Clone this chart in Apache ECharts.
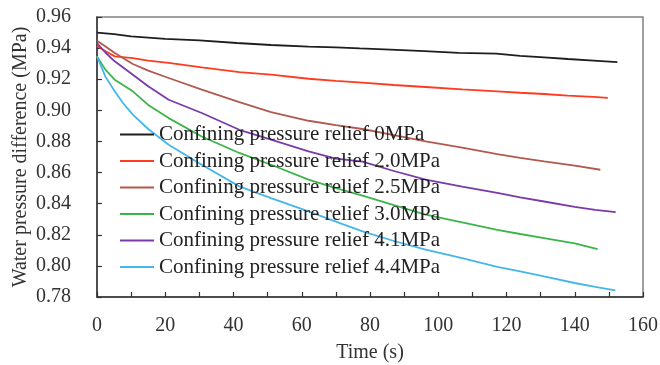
<!DOCTYPE html>
<html>
<head>
<meta charset="utf-8">
<script src="https://cdn.jsdelivr.net/npm/echarts@6/dist/echarts.min.js"></script>
<style>
html,body{margin:0;padding:0;background:#fff;}
#chart{width:660px;height:365px;}
</style>
</head>
<body>
<div id="chart"></div>
<script>
var seriesNames = [
  'Confining pressure relief 0MPa',
  'Confining pressure relief 2.0MPa',
  'Confining pressure relief 2.5MPa',
  'Confining pressure relief 3.0MPa',
  'Confining pressure relief 4.1MPa',
  'Confining pressure relief 4.4MPa'
];
var seriesColors = ['#1e1e1e', '#ff3b1f', '#b2594d', '#3cb44a', '#7a3aa8', '#45b6ea'];

var t0 = [0, 5, 10, 20, 30, 41, 51, 62, 70, 77, 86, 96, 106, 117, 124, 131, 138, 145.5, 152.5];
var v0 = [0.950, 0.949, 0.9475, 0.946, 0.945, 0.9433, 0.942, 0.941, 0.9405, 0.9398, 0.939, 0.938, 0.937, 0.9365, 0.935, 0.934, 0.933, 0.932, 0.931];

var t20 = [0, 2.5, 5.2, 10.5, 15, 21, 30.7, 41.7, 51, 62, 70, 77.8, 87, 96.3, 107, 117.3, 124, 131, 138, 145.5, 149.7];
var v20 = [0.9415, 0.938, 0.9347, 0.9335, 0.932, 0.9305, 0.9276, 0.9246, 0.9229, 0.9203, 0.919, 0.9178, 0.9163, 0.915, 0.9135, 0.9122, 0.9113, 0.9105, 0.9095, 0.9086, 0.908];

var t25 = [0, 2.5, 5.2, 10.5, 15, 21, 30.7, 41.7, 51, 62, 70, 77.8, 87, 96.3, 107, 117.3, 124, 131, 140, 147.5];
var v25 = [0.9448, 0.941, 0.9368, 0.9298, 0.9255, 0.9208, 0.9133, 0.9053, 0.8989, 0.8933, 0.8905, 0.888, 0.884, 0.880, 0.876, 0.8718, 0.8695, 0.8672, 0.8645, 0.8618];

var t30 = [0, 2.5, 5.2, 10.5, 15, 21, 30.7, 41.7, 51, 62, 70, 77.8, 87, 96.3, 107, 117.3, 124, 131, 140, 146.7];
var v30 = [0.9347, 0.926, 0.9197, 0.9122, 0.9035, 0.895, 0.8832, 0.8726, 0.865, 0.8554, 0.850, 0.8452, 0.839, 0.8329, 0.828, 0.8232, 0.8205, 0.8179, 0.8145, 0.8108];

var t41 = [0, 2.5, 5.2, 10.5, 15, 21, 30.7, 41.7, 51, 62, 70, 77.8, 87, 96.3, 107, 117.3, 124, 131, 140, 146, 152];
var v41 = [0.9433, 0.937, 0.9315, 0.9229, 0.9155, 0.9068, 0.8983, 0.8875, 0.8811, 0.8736, 0.869, 0.867, 0.861, 0.8554, 0.851, 0.847, 0.844, 0.8414, 0.838, 0.836, 0.8346];

var t44 = [0, 2.5, 5.2, 7.6, 10.5, 15, 21, 30.7, 41.7, 51, 62, 70, 77.8, 87, 96.3, 107, 117.3, 124, 131, 140, 146, 151.9];
var v44 = [0.9347, 0.9215, 0.9122, 0.9047, 0.8972, 0.888, 0.8779, 0.865, 0.8511, 0.8436, 0.835, 0.8285, 0.8222, 0.816, 0.8104, 0.805, 0.7993, 0.7965, 0.7932, 0.789, 0.7865, 0.7842];

var xTicksMin = 0, xTicksMax = 160, xTickStep = 10, xLabelStep = 20;
var yTicksMin = 0.78, yTicksMax = 0.96, yTickStep = 0.02;

var allT = [t0, t20, t25, t30, t41, t44];
var allV = [v0, v20, v25, v30, v41, v44];

function pairs(ts, vs) {
  var out = [];
  for (var i = 0; i < ts.length; i++) out.push([ts[i], vs[i]]);
  return out;
}

var FONT = '"Liberation Serif", "Times New Roman", serif';
var series = seriesNames.map(function (name, i) {
  return {
    name: name,
    type: 'line',
    data: pairs(allT[i], allV[i]),
    symbol: 'none',
    showSymbol: false,
    smooth: false,
    lineStyle: { color: seriesColors[i], width: 1.8 },
    itemStyle: { color: seriesColors[i] },
    animation: false
  };
});

var chart = echarts.init(document.getElementById('chart'), null, { renderer: 'canvas' });
chart.setOption({
  animation: false,
  backgroundColor: '#ffffff',
  grid: {
    left: 97, right: 17, top: 17, bottom: 68,
    containLabel: false,
    outerBoundsMode: 'none',
    show: true, borderColor: '#808080', borderWidth: 1.5, backgroundColor: 'transparent'
  },
  legend: {
    orient: 'vertical',
    left: 120,
    top: 124,
    padding: 0,
    icon: 'rect',
    itemWidth: 34,
    itemHeight: 2,
    itemGap: 5.5,
    textStyle: { fontFamily: FONT, fontSize: 21, color: '#222', lineHeight: 21 },
    data: seriesNames.slice()
  },
  xAxis: {
    type: 'value',
    min: xTicksMin,
    max: xTicksMax,
    interval: xTickStep,
    name: 'Time (s)',
    nameLocation: 'middle',
    nameGap: 46,
    nameMoveOverlap: false,
    nameTextStyle: { fontFamily: FONT, fontSize: 20, color: '#333' },
    axisLine: { show: true, onZero: false, lineStyle: { color: '#333', width: 1.5 } },
    axisTick: { show: true, inside: true, length: 5, lineStyle: { color: '#333', width: 1.2 } },
    axisLabel: {
      fontFamily: FONT, fontSize: 20, color: '#333', margin: 19,
      formatter: function (v) { return (Math.round(v) % xLabelStep === 0) ? String(Math.round(v)) : ''; }
    },
    splitLine: { show: false }
  },
  yAxis: {
    type: 'value',
    min: yTicksMin,
    max: yTicksMax,
    interval: yTickStep,
    name: 'Water pressure difference (MPa)',
    nameLocation: 'middle',
    nameGap: 66,
    nameMoveOverlap: false,
    nameTextStyle: { fontFamily: FONT, fontSize: 20, color: '#333' },
    axisLine: { show: true, onZero: false, lineStyle: { color: '#333', width: 1.5 } },
    axisTick: { show: true, inside: true, length: 5, lineStyle: { color: '#333', width: 1.2 } },
    axisLabel: {
      fontFamily: FONT, fontSize: 20, color: '#333', margin: 26,
      formatter: function (v) { return v.toFixed(2); }
    },
    splitLine: { show: false }
  },
  series: series
});
</script>
</body>
</html>
